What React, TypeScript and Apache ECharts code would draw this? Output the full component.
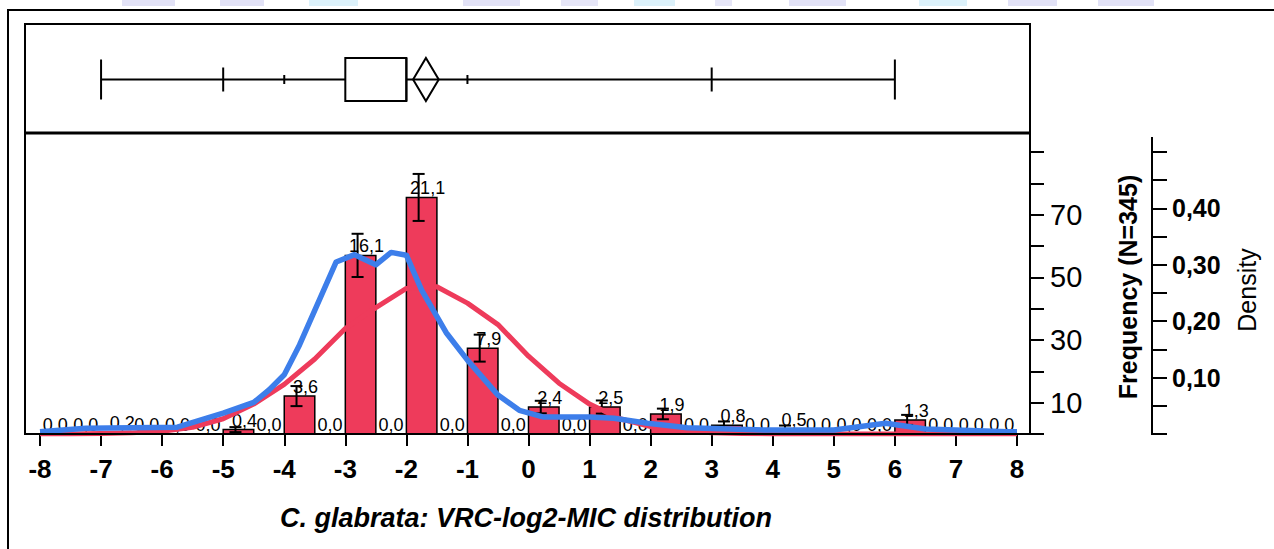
import React, { useEffect, useRef } from "react";
import * as echarts from "echarts";

// ---------- data ----------
const binLeft = [-8, -7.5, -7, -6.5, -6, -5.5, -5, -4.5, -4, -3.5, -3, -2.5, -2, -1.5, -1, -0.5, 0, 0.5, 1, 1.5, 2, 2.5, 3, 3.5, 4, 4.5, 5, 5.5, 6, 6.5, 7, 7.5];
const binWidth = 0.5;
const freq = [0, 0, 0.7, 0, 0, 0, 1.4, 0, 12.1, 0, 57, 0, 75.5, 0, 27.4, 0, 8.6, 0, 8.6, 0, 6.4, 0, 2.8, 0, 1.7, 0, 0, 0, 4.5, 0, 0, 0];
const pctLabels = ["0,0", "0,0", "0,2", "0,0", "0,0", "0,0", "0,4", "0,0", "3,6", "0,0", "16,1", "0,0", "21,1", "0,0", "7,9", "0,0", "2,4", "0,0", "2,5", "0,0", "1,9", "0,0", "0,8", "0,0", "0,5", "0,0", "0,0", "0,0", "1,3", "0,0", "0,0", "0,0"];
const errHalf = [0, 0, 0, 0, 0, 0, 0.8, 0, 3.2, 0, 6.9, 0, 7.5, 0, 4.3, 0, 2, 0, 2.1, 0, 1.7, 0, 1.2, 0, 1, 0, 0, 0, 1.6, 0, 0, 0];

const normalX = [-8, -7.5, -7, -6.5, -6, -5.5, -5, -4.5, -4, -3.5, -3, -2.5, -2, -1.5, -1, -0.5, 0, 0.5, 1, 1.5, 2, 2.5, 3, 3.5, 4, 4.5, 5, 5.5, 6, 6.5, 7, 7.5, 8];
const normalY = [0, 0, 0.001, 0.002, 0.005, 0.012, 0.027, 0.053, 0.088, 0.133, 0.187, 0.224, 0.258, 0.261, 0.232, 0.194, 0.138, 0.09, 0.053, 0.027, 0.013, 0.006, 0.002, 0.001, 0, 0, 0, 0, 0, 0, 0, 0, 0];

const kdeX = [-8, -7.25, -5.75, -5.0, -4.5, -4.25, -4.0, -3.75, -3.15, -2.85, -2.5, -2.25, -2.0, -1.75, -1.35, -1.0, -0.5, -0.15, 0.25, 1.0, 1.4, 1.95, 2.6, 3.9, 5.0, 5.85, 6.5, 7.85, 8];
const kdeY = [0.004, 0.01, 0.012, 0.037, 0.056, 0.078, 0.105, 0.158, 0.305, 0.318, 0.3, 0.322, 0.317, 0.255, 0.18, 0.131, 0.069, 0.042, 0.03, 0.03, 0.028, 0.019, 0.011, 0.007, 0.007, 0.019, 0.009, 0.004, 0.004];

// min, 2.5%, 10%, Q1, median, Q3, 90%, 97.5%, max
const boxQuantiles = [-7, -5, -4, -3, -2, -2, -1, 3, 6];
const meanValue = -1.68;
const meanCI = [-1.89, -1.47];

const freqLabelValues = [10, 30, 50, 70];
const densityLabelValues = [0.1, 0.2, 0.3, 0.4];

const titleText = "C. glabrata: VRC-log2-MIC distribution";
const freqName = "Frequency (N=345)";
const densityName = "Density";

// ---------- style ----------
const RED = "#EE3B5B";
const BLUE = "#3D7EEA";
const SANS = "'Liberation Sans', Arial, sans-serif";

const blobs: [number, number, string][] = [
  [122, 175, "#e2e2f6"], [220, 264, "#e2e2f6"], [309, 358, "#dcf1fa"], [463, 520, "#e2e2f6"],
  [561, 598, "#e6e6f7"], [634, 675, "#dcf1fa"], [715, 732, "#e6e6f7"], [789, 846, "#e2e2f6"],
  [919, 967, "#dcf1fa"], [1008, 1057, "#e2e2f6"], [1098, 1154, "#e2e2f6"],
];

export default function App() {
  const ref = useRef<HTMLDivElement>(null);
  useEffect(() => {
    if (!ref.current) return;
    const chart = echarts.init(ref.current, undefined, { renderer: "svg" });

    const barData = binLeft.map((x0, i) => [x0, x0 + binWidth, freq[i], errHalf[i], i]);
    const boxData = [[...boxQuantiles, meanValue, meanCI[0], meanCI[1]]];
    const line = (x1: number, y1: number, x2: number, y2: number, w = 2) => ({
      type: "line", shape: { x1, y1, x2, y2 }, style: { stroke: "#000", lineWidth: w }, z: 20,
    });

    const option: any = {
      animation: false,
      backgroundColor: "#fff",
      grid: [
        { left: 40, top: 152, width: 977, height: 282 },
        { left: 40, top: 26, width: 977, height: 107 },
      ],
      xAxis: [
        {
          gridIndex: 0, type: "value", min: -8, max: 8, interval: 1,
          axisLine: { show: false, onZero: false },
          axisTick: { show: true, length: 12, lineStyle: { color: "#000", width: 2 } },
          splitLine: { show: false },
          axisLabel: { color: "#000", fontSize: 26, fontWeight: "bold", fontFamily: SANS, margin: 22 },
        },
        { gridIndex: 1, type: "value", min: -8, max: 8, show: false },
      ],
      yAxis: [
        {
          gridIndex: 0, type: "value", position: "right", offset: 13, min: 0, max: 90, interval: 10,
          axisLine: { show: false, onZero: false },
          axisTick: { show: true, length: 14, lineStyle: { color: "#000", width: 2 } },
          splitLine: { show: false },
          axisLabel: {
            color: "#000", fontSize: 29, fontFamily: SANS, margin: 20,
            formatter: (v: number) => (freqLabelValues.some((t) => Math.abs(t - v) < 1e-6) ? String(v) : ""),
          },
        },
        {
          gridIndex: 0, type: "value", position: "right", offset: 135, min: 0, max: 0.5, interval: 0.05,
          axisLine: { show: false, onZero: false },
          axisTick: { show: true, length: 15, lineStyle: { color: "#000", width: 2 } },
          splitLine: { show: false },
          axisLabel: {
            color: "#000", fontSize: 25, fontWeight: "bold", fontFamily: SANS, margin: 20,
            formatter: (v: number) =>
              densityLabelValues.some((t) => Math.abs(t - v) < 1e-6) ? v.toFixed(2).replace(".", ",") : "",
          },
        },
        { gridIndex: 1, type: "value", min: 0, max: 1, show: false },
      ],
      series: [
        {
          type: "custom", xAxisIndex: 0, yAxisIndex: 0, z: 2, clip: false,
          data: barData, encode: { x: [0, 1], y: 2 },
          renderItem: (params: any, api: any) => {
            const x0 = api.value(0), x1 = api.value(1), v = api.value(2), e = api.value(3), idx = api.value(4);
            const tl = api.coord([x0, v]);
            const br = api.coord([x1, 0]);
            const cx = (tl[0] + br[0]) / 2;
            const children: any[] = [];
            if (v > 0) {
              children.push({
                type: "rect",
                shape: { x: tl[0], y: tl[1], width: br[0] - tl[0], height: br[1] - tl[1] },
                style: { fill: RED, stroke: "#000", lineWidth: 1.5 },
              });
            }
            children.push({
              type: "text",
              style: {
                text: pctLabels[idx], x: cx + (v > 0 ? 6 : 0), y: tl[1],
                textAlign: "center", align: "center", textVerticalAlign: "bottom", verticalAlign: "bottom",
                fontSize: 18, fontFamily: SANS, fill: "#000",
              },
            });
            if (e > 0) {
              const ex = cx - 3;
              const yt = api.coord([x0, v + e])[1];
              const yb = api.coord([x0, Math.max(v - e, 0)])[1];
              const s = { stroke: "#000", lineWidth: 2 };
              children.push({ type: "line", shape: { x1: ex, y1: yt, x2: ex, y2: yb }, style: s });
              children.push({ type: "line", shape: { x1: ex - 6, y1: yt, x2: ex + 6, y2: yt }, style: s });
              children.push({ type: "line", shape: { x1: ex - 6, y1: yb, x2: ex + 6, y2: yb }, style: s });
            }
            return { type: "group", children };
          },
        },
        {
          type: "line", xAxisIndex: 0, yAxisIndex: 1, z: 3, symbol: "none", showSymbol: false,
          data: normalX.map((x, i) => [x, normalY[i]]),
          lineStyle: { color: RED, width: 5, join: "round" }, itemStyle: { color: RED },
        },
        {
          type: "line", xAxisIndex: 0, yAxisIndex: 1, z: 4, symbol: "none", showSymbol: false,
          data: kdeX.map((x, i) => [x, kdeY[i]]),
          lineStyle: { color: BLUE, width: 5.5, join: "round" }, itemStyle: { color: BLUE },
        },
        {
          type: "custom", xAxisIndex: 1, yAxisIndex: 2, z: 5, clip: false,
          data: boxData,
          renderItem: (params: any, api: any) => {
            const q = [0, 1, 2, 3, 4, 5, 6, 7, 8].map((i) => api.value(i));
            const mean = api.value(9), lo = api.value(10), hi = api.value(11);
            const yc = api.coord([0, 0.5])[1];
            const X = (v: number) => api.coord([v, 0.5])[0];
            const ls = { stroke: "#000", lineWidth: 2, fill: "none" };
            const vline = (x: number, h: number) => ({ type: "line", shape: { x1: x, y1: yc - h, x2: x, y2: yc + h }, style: ls });
            return {
              type: "group",
              children: [
                { type: "line", shape: { x1: X(q[0]), y1: yc, x2: X(q[8]), y2: yc }, style: ls },
                vline(X(q[0]), 20), vline(X(q[8]), 20),
                vline(X(q[1]), 12), vline(X(q[7]), 12),
                vline(X(q[2]), 4.5), vline(X(q[6]), 4.5),
                {
                  type: "rect",
                  shape: { x: X(q[3]), y: yc - 21.5, width: X(q[5]) - X(q[3]), height: 43 },
                  style: { fill: "#fff", stroke: "#000", lineWidth: 2 },
                },
                vline(X(q[4]), 21.5),
                {
                  type: "polygon",
                  shape: { points: [[X(lo), yc], [X(mean), yc - 21.5], [X(hi), yc], [X(mean), yc + 21.5]] },
                  style: { fill: "none", stroke: "#000", lineWidth: 2 },
                },
              ],
            };
          },
        },
      ],
      graphic: [
        ...blobs.map(([a, b, c]) => ({ type: "rect", shape: { x: a, y: 0, width: b - a, height: 6 }, style: { fill: c }, z: 1 })),
        { type: "polyline", shape: { points: [[8, 549], [8, 10], [1274, 10]] }, style: { stroke: "#000", lineWidth: 2, fill: "none" }, z: 20 },
        { type: "rect", shape: { x: 25, y: 24, width: 1005, height: 109 }, style: { stroke: "#000", lineWidth: 2, fill: "none" }, z: 20 },
        line(25, 133, 1030, 133, 3),
        line(25, 133, 25, 435),
        line(24, 434, 1031, 434),
        line(1030, 133, 1030, 435),
        line(1152, 137, 1152, 435),
        {
          type: "text", x: 526, y: 518, z: 20,
          style: {
            text: titleText, textAlign: "center", align: "center", textVerticalAlign: "middle", verticalAlign: "middle",
            fontSize: 27, fontWeight: "bold", fontStyle: "italic", fontFamily: SANS, fill: "#000",
          },
        },
        {
          type: "text", x: 1128, y: 287, rotation: Math.PI / 2, z: 20,
          style: {
            text: freqName, textAlign: "center", align: "center", textVerticalAlign: "middle", verticalAlign: "middle",
            fontSize: 25, fontWeight: "bold", fontFamily: SANS, fill: "#000",
          },
        },
        {
          type: "text", x: 1247, y: 290, rotation: Math.PI / 2, z: 20,
          style: {
            text: densityName, textAlign: "center", align: "center", textVerticalAlign: "middle", verticalAlign: "middle",
            fontSize: 25, fontFamily: SANS, fill: "#000",
          },
        },
      ],
    };
    chart.setOption(option);
    return () => chart.dispose();
  }, []);
  return (
    <div
      ref={ref}
      style={{ position: "fixed", left: 0, top: 0, width: 1274, height: 549, background: "#fff" }}
    />
  );
}
